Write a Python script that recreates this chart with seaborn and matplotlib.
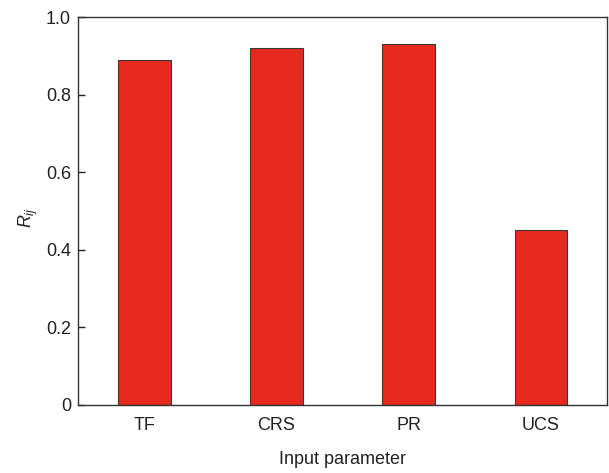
import matplotlib
matplotlib.use("Agg")
import matplotlib.pyplot as plt
import seaborn as sns
import pandas as pd
from matplotlib.ticker import FuncFormatter

categories = ["TF", "CRS", "PR", "UCS"]
values = [0.89, 0.92, 0.93, 0.45]

sns.set_theme(style="ticks")
plt.rcParams['font.family'] = ['Liberation Sans', 'DejaVu Sans']
plt.rcParams['mathtext.fontset'] = 'custom'
plt.rcParams['mathtext.it'] = 'Liberation Sans:italic'
plt.rcParams['mathtext.rm'] = 'Liberation Sans'

df = pd.DataFrame({"param": categories, "R": values})

fig = plt.figure(figsize=(6.09, 4.73), dpi=100)
ax = fig.add_axes([0.128, 0.144, 0.869, 0.820])
sns.barplot(data=df, x="param", y="R", color="#E8291E", saturation=1,
            width=0.4, edgecolor="#3a3a3a", linewidth=0.8, ax=ax)
ax.set_xlim(-0.5, 3.5)
ax.set_ylim(0, 1.0)
ax.set_yticks([0, 0.2, 0.4, 0.6, 0.8, 1.0])
ax.yaxis.set_major_formatter(FuncFormatter(lambda v, p: "0" if v == 0 else f"{v:.1f}"))
ax.tick_params(axis='y', direction='in', length=5, width=1, labelsize=13, colors='#222222', pad=5)
ax.tick_params(axis='x', length=0, labelsize=13, pad=9, colors='#222222')
for s in ax.spines.values():
    s.set_visible(True)
    s.set_linewidth(1.0)
    s.set_color('#333333')
ax.set_xlabel("Input parameter", fontsize=13, labelpad=12, color='#222222')
ax.set_ylabel(r"$R_{ij}$", fontsize=13, color='#222222')
ax.yaxis.set_label_coords(-0.072, 0.482)
fig.savefig("out.png", dpi=100)
